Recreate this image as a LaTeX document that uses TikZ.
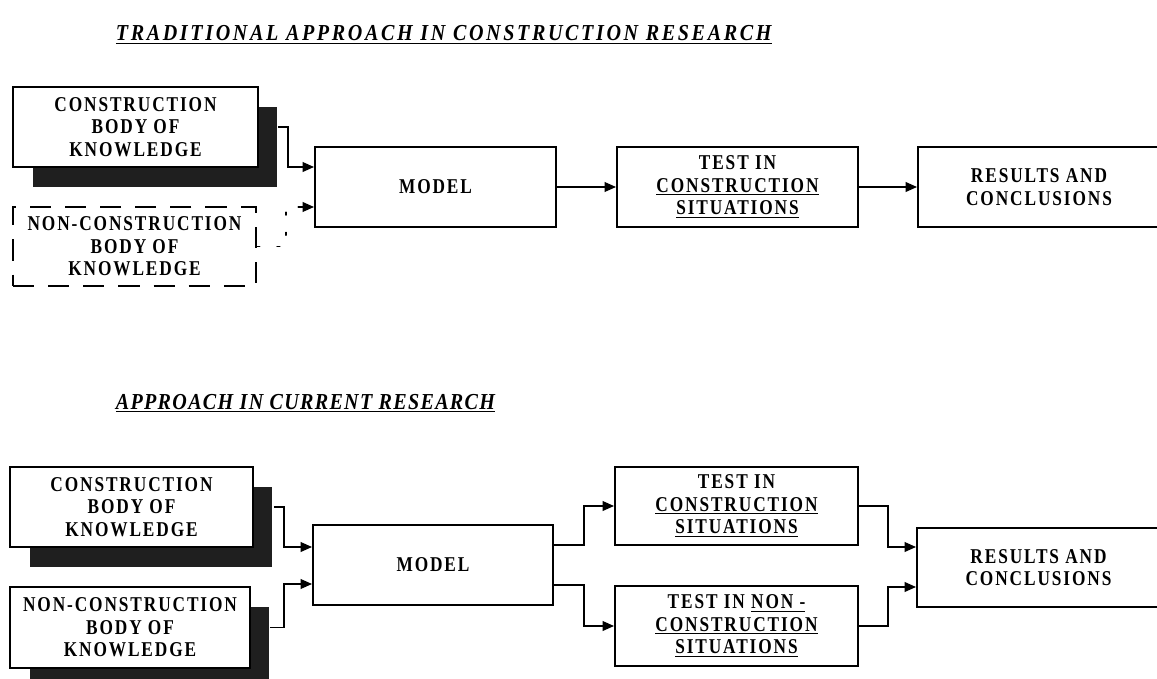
\documentclass[tikz,border=0pt]{standalone}
\usepackage{fontspec}
\setmainfont{Liberation Serif}
\newfontfamily\boxfont[LetterSpace=9,FakeStretch=0.82]{Liberation Serif}
\newfontfamily\headfont[LetterSpace=11.5,FakeStretch=0.88]{Liberation Serif}
\newfontfamily\headfontb[LetterSpace=5.7,FakeStretch=0.88]{Liberation Serif}
\usetikzlibrary{arrows.meta,shadows}

\begin{document}
\begin{tikzpicture}[x=0.02cm,y=-0.02cm,>={Triangle[length=6.5pt,width=5.5pt]},line width=1pt,
  box/.style={draw,fill=white,line width=1.1pt,align=center,inner sep=0pt,
    font={\boxfont\bfseries\fontsize{12}{12.8}\selectfont}},
  shadebox/.style={box,general shadow={fill=black!88,shadow xshift=0.39cm,shadow yshift=-0.4cm}},
  dashbox/.style={box,dash pattern=on 12pt off 8pt},
  dotline/.style={dash pattern=on 1.5pt off 10pt,line cap=round},
  heading/.style={anchor=base west,inner sep=0pt,font={\headfont\bfseries\itshape\fontsize{13}{14}\selectfont}}]
  \useasboundingbox (0,0) rectangle (1157,679);

  % traditional approach
  \node[heading] (title1) at (115,41) {\underline{TRADITIONAL APPROACH IN CONSTRUCTION RESEARCH}};
  \node[shadebox,minimum width=4.9cm,minimum height=1.6cm] (cbk1) at (135.5,127) {CONSTRUCTION\\BODY OF\\KNOWLEDGE};
  \node[dashbox,minimum width=4.86cm,minimum height=1.58cm] (ncbk1) at (134.5,246.5) {NON-CONSTRUCTION\\BODY OF\\KNOWLEDGE};
  \node[box,minimum width=4.82cm,minimum height=1.6cm] (model1) at (435.5,187) {MODEL};
  \node[box,minimum width=4.82cm,minimum height=1.6cm] (test1) at (737.5,187) {TEST IN\\\underline{CONSTRUCTION}\\\underline{SITUATIONS}};
  \node[box,minimum width=4.84cm,minimum height=1.6cm] (res1) at (1039,187) {RESULTS AND\\CONCLUSIONS};

  \draw[->] ([xshift=0.38cm]cbk1.east) -- ++(10,0) |- ([yshift=0.4cm]model1.west);
  \draw[dotline] (ncbk1.east) -- ++(29,0) |- ([yshift=-0.4cm,xshift=-8pt]model1.west);
  \draw[->] ([yshift=-0.4cm,xshift=-8pt]model1.west) -- ([yshift=-0.4cm]model1.west);
  \draw[->] (model1) -- (test1);
  \draw[->] (test1) -- (res1);

  % current research
  \node[heading,font={\headfontb\bfseries\itshape\fontsize{13}{14}\selectfont}] (title2) at (115,409) {\underline{APPROACH IN CURRENT RESEARCH}};
  \node[shadebox,minimum width=4.86cm,minimum height=1.6cm] (cbk2) at (131.5,507) {CONSTRUCTION\\BODY OF\\KNOWLEDGE};
  \node[shadebox,minimum width=4.8cm,minimum height=1.62cm] (ncbk2) at (130,627.5) {NON-CONSTRUCTION\\BODY OF\\KNOWLEDGE};
  \node[box,minimum width=4.8cm,minimum height=1.6cm] (model2) at (433,565) {MODEL};
  \node[box,minimum width=4.86cm,minimum height=1.56cm] (test2a) at (736.5,506) {TEST IN\\\underline{CONSTRUCTION}\\\underline{SITUATIONS}};
  \node[box,minimum width=4.86cm,minimum height=1.6cm] (test2b) at (736.5,626) {TEST IN \underline{NON -}\\\underline{CONSTRUCTION}\\\underline{SITUATIONS}};
  \node[box,minimum width=4.86cm,minimum height=1.58cm] (res2) at (1038.5,567.5) {RESULTS AND\\CONCLUSIONS};

  \draw[->] ([xshift=0.4cm]cbk2.east) -- ++(10,0) |- ([yshift=0.36cm]model2.west);
  \draw[->] ([xshift=0.38cm]ncbk2.east) -- ++(14,0) |- ([yshift=-0.38cm]model2.west);
  \draw[->] ([yshift=0.4cm]model2.east) -- ++(30,0) |- (test2a.west);
  \draw[->] ([yshift=-0.4cm]model2.east) -- ++(30,0) |- (test2b.west);
  \draw[->] (test2a.east) -- ++(29,0) |- ([yshift=0.41cm]res2.west);
  \draw[->] (test2b.east) -- ++(29,0) |- ([yshift=-0.39cm]res2.west);
\end{tikzpicture}
\end{document}
